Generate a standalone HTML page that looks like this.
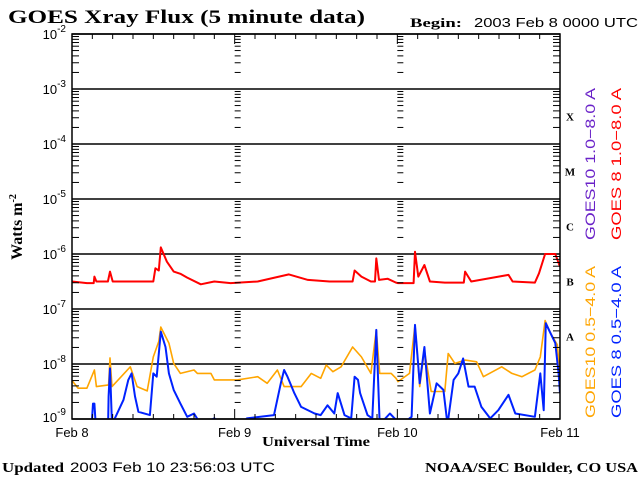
<!DOCTYPE html>
<html><head><meta charset="utf-8"><style>
html,body{margin:0;padding:0;background:#fff;width:640px;height:480px;overflow:hidden}
text{font-family:"Liberation Sans",sans-serif}
</style></head><body>
<svg id="chart" width="640" height="480" viewBox="0 0 640 480" xmlns="http://www.w3.org/2000/svg">
<rect width="640" height="480" fill="#fff"/>
<text x="8" y="23" font-size="19" font-weight="bold" textLength="357" lengthAdjust="spacingAndGlyphs" style="font-family:'Liberation Serif',serif">GOES Xray Flux (5 minute data)</text>
<text x="410" y="27" font-size="13" textLength="52" lengthAdjust="spacingAndGlyphs" style="font-family:'Liberation Serif',serif" font-weight="bold">Begin:</text>
<text x="474" y="27" font-size="13" textLength="164" lengthAdjust="spacingAndGlyphs">2003 Feb 8 0000 UTC</text>
<g id="grid"></g>
<g id="series"></g>
<g id="axes"></g>
<text transform="translate(22,227) rotate(-90)" text-anchor="middle" font-size="16" font-weight="bold" style="font-family:'Liberation Serif',serif">Watts m<tspan font-size="10" dy="-6">-2</tspan></text>
<text x="262" y="446" font-size="14" font-weight="bold" textLength="108" lengthAdjust="spacingAndGlyphs" style="font-family:'Liberation Serif',serif">Universal Time</text>
<text x="2" y="472" font-size="14" style="font-family:'Liberation Serif',serif" font-weight="bold" textLength="62" lengthAdjust="spacingAndGlyphs">Updated</text>
<text x="70" y="472" font-size="14" textLength="205" lengthAdjust="spacingAndGlyphs">2003 Feb 10 23:56:03 UTC</text>
<text x="425" y="472" font-size="14" font-weight="bold" textLength="213" lengthAdjust="spacingAndGlyphs" style="font-family:'Liberation Serif',serif">NOAA/SEC Boulder, CO USA</text>
<text transform="translate(595,164) rotate(-90)" text-anchor="middle" font-size="14" textLength="152" lengthAdjust="spacingAndGlyphs" fill="#6a22c8">GOES10 1.0−8.0 A</text>
<text transform="translate(621,164) rotate(-90)" text-anchor="middle" font-size="14" textLength="152" lengthAdjust="spacingAndGlyphs" fill="#ff0000">GOES 8 1.0−8.0 A</text>
<text transform="translate(595,342) rotate(-90)" text-anchor="middle" font-size="14" textLength="152" lengthAdjust="spacingAndGlyphs" fill="#ffa500">GOES10 0.5−4.0 A</text>
<text transform="translate(621,342) rotate(-90)" text-anchor="middle" font-size="14" textLength="152" lengthAdjust="spacingAndGlyphs" fill="#0022ff">GOES 8 0.5−4.0 A</text>
</svg>
<script>
const dayLabels=["Feb 8","Feb 9","Feb 10","Feb 11"];
const decades=[-2,-3,-4,-5,-6,-7,-8,-9];
const classLabels=["X","M","C","B","A"];
const classDecades=[-3.5,-4.5,-5.5,-6.5,-7.5];
const redHours=[0,2.2,3.2,3.3,3.6,5.3,5.6,6,12,12.3,12.8,13.1,14,15,16,17,19,21,23.4,27.4,32,34.8,38,41.4,41.7,42.7,44.1,44.7,44.9,45.3,46.6,47.8,48.1,50.4,50.6,51.1,52,52.8,55,57.8,58,58.9,64.4,65,68.3,68.9,69.8,71.3,72];
const redLog=[-6.50,-6.53,-6.53,-6.41,-6.50,-6.50,-6.32,-6.50,-6.50,-6.26,-6.30,-5.88,-6.14,-6.32,-6.36,-6.43,-6.55,-6.50,-6.53,-6.50,-6.37,-6.47,-6.50,-6.50,-6.30,-6.41,-6.50,-6.50,-6.08,-6.47,-6.45,-6.52,-6.53,-6.53,-5.96,-6.41,-6.20,-6.50,-6.52,-6.52,-6.32,-6.50,-6.38,-6.50,-6.52,-6.35,-6.00,-6.00,-6.23];
const orangeHours=[0,0.9,2.2,3.3,3.6,5.4,5.6,5.9,8.6,9.6,11.1,12.0,12.8,13.1,14.3,15.0,16.0,18.0,18.5,20.5,21.0,24.4,27.4,28.8,30.3,31.3,33.8,35.3,36.7,37.5,38.5,39.7,41.4,42.7,44.1,44.9,45.4,47.1,47.8,48.1,49.8,50.6,51.3,52.0,53.0,55.0,55.5,56.5,58.0,59.7,60.7,63.4,64.9,66.4,68.3,69.1,69.8,70.6,71.6,72.0];
const orangeLog=[-8.30,-8.44,-8.44,-8.11,-8.41,-8.38,-7.89,-8.41,-8.05,-8.41,-8.49,-7.87,-7.59,-7.33,-7.62,-7.99,-8.17,-8.11,-8.17,-8.17,-8.29,-8.29,-8.23,-8.35,-8.11,-8.41,-8.41,-8.17,-8.26,-8.02,-8.14,-8.05,-7.69,-7.87,-8.17,-7.38,-8.17,-8.17,-8.26,-8.32,-8.17,-7.29,-8.41,-7.75,-8.50,-8.50,-7.81,-7.99,-7.93,-7.96,-8.23,-8.05,-8.17,-8.23,-8.11,-7.87,-7.21,-7.44,-7.65,-8.17];
const blueHours=[0,2.8,3.1,3.3,3.6,5.3,5.4,5.6,5.9,7.6,8.3,8.8,9.3,9.8,11.5,12.0,12.5,13.1,13.8,14.3,15.0,16.0,17.0,18.0,19.0,21.0,24,25.8,29.8,30.8,31.3,31.8,32.8,33.8,35.8,36.7,37.7,38.7,39.2,40.2,41.2,41.7,42.2,42.5,43.6,44.3,44.9,45.4,46.9,47.6,48.6,50.1,50.6,51.3,52.0,52.8,53.8,54.8,55.4,56.3,57.0,57.7,58.5,59.4,60.4,61.7,62.9,64.4,65.4,68.3,69.1,69.6,69.9,70.6,71.3,71.8,72.0];
const blueLog=[-9.3,-9.3,-8.72,-8.72,-9.3,-9.3,-8.59,-8.08,-9.1,-8.65,-8.29,-8.17,-8.59,-8.87,-8.93,-8.17,-8.23,-7.41,-7.69,-8.17,-8.47,-8.72,-8.96,-8.90,-9.1,-8.99,-9.2,-8.99,-8.93,-8.35,-8.11,-8.23,-8.53,-8.78,-8.90,-8.93,-8.75,-8.90,-8.53,-8.93,-8.99,-8.23,-8.29,-8.53,-8.93,-8.99,-7.38,-9.1,-8.90,-8.99,-9.1,-8.96,-7.29,-8.35,-7.69,-8.90,-8.35,-8.47,-9.1,-8.29,-8.17,-7.90,-8.41,-8.41,-8.78,-8.99,-8.84,-8.56,-8.90,-8.96,-8.17,-8.84,-7.26,-7.44,-7.62,-8.17,-8.53];

const X0=72,X1=560,Y0=34,Y1=419;
const xs=h=>X0+(X1-X0)*h/72;
const ys=l=>Y1-(Y1-Y0)*(l+9)/7;
const NS="http://www.w3.org/2000/svg";
function mk(tag,attrs,parent){const e=document.createElementNS(NS,tag);for(const k in attrs)e.setAttribute(k,attrs[k]);parent.appendChild(e);return e;}
const grid=document.getElementById('grid'),axes=document.getElementById('axes'),ser=document.getElementById('series');
const defs=mk('defs',{},document.getElementById('chart'));
const cp=mk('clipPath',{id:'plotclip'},defs);
mk('rect',{x:X0,y:Y0,width:X1-X0,height:Y1-Y0},cp);
decades.forEach(d=>{
  const l=mk('line',{x1:X0,x2:X1,y1:ys(d),y2:ys(d),stroke:'#000','stroke-width':1.5},grid);
  
  
  const lab=mk('text',{x:X0-6,y:ys(d)+(d>-9?5:3),'text-anchor':'end','font-size':13},axes);
  
  
  lab.innerHTML='10<tspan font-size="10" dy="-7">'+d+'</tspan>';
});
const vx=[X0,xs(24),xs(48),X1];
for(let d=-9;d<-2;d++){for(let m=2;m<=9;m++){const y=ys(d+Math.log10(m));
  vx.forEach((x,i)=>{
    if(i===0) mk('line',{x1:x,x2:x+7,y1:y,y2:y,stroke:'#000','stroke-width':1},axes);
    else if(i<3) mk('line',{x1:x,x2:x+6,y1:y,y2:y,stroke:'#000','stroke-width':1},axes);
    if(i===3) mk('line',{x1:x-7,x2:x,y1:y,y2:y,stroke:'#000','stroke-width':1},axes);
  });}}
const fr=mk('rect',{x:X0,y:Y0,width:X1-X0,height:Y1-Y0,fill:'none',stroke:'#000','stroke-width':1.5},axes);


for(let h=0;h<=72;h+=3){const big=h%24===0;
  mk('line',{x1:xs(h),x2:xs(h),y1:Y1,y2:Y1-(big?10:5),stroke:'#000','stroke-width':1},axes);
  mk('line',{x1:xs(h),x2:xs(h),y1:Y0,y2:Y0+(big?10:5),stroke:'#000','stroke-width':1},axes);}
dayLabels.forEach((t,i)=>{const e=mk('text',{x:xs(i*24),y:437,'text-anchor':'middle','font-size':13},axes);
  
  
  e.textContent=t;});
classLabels.forEach((t,i)=>{const e=mk('text',{x:570,y:ys(classDecades[i])+4,'text-anchor':'middle','font-size':11,'font-weight':'bold',style:"font-family:'Liberation Serif',serif"},axes);
  
  
  e.textContent=t;});
function line(hours,logs,color,name,w){
  let d='';hours.forEach((h,i)=>{d+=(i?'L':'M')+xs(h).toFixed(1)+','+ys(logs[i]).toFixed(1);});
  const p=mk('path',{d:d,fill:'none',stroke:color,'stroke-width':w,'clip-path':'url(#plotclip)','stroke-linejoin':'round'},ser);
  
  
}
line(orangeHours,orangeLog,'#ffa500','goes10-short-line',1.6);
line(blueHours,blueLog,'#0022ff','goes8-short-line',2);
line(redHours,redLog,'#6a22c8','goes10-long-line',1.2);
line(redHours,redLog,'#ff0000','goes8-long-line',2);
</script>
</body></html>
